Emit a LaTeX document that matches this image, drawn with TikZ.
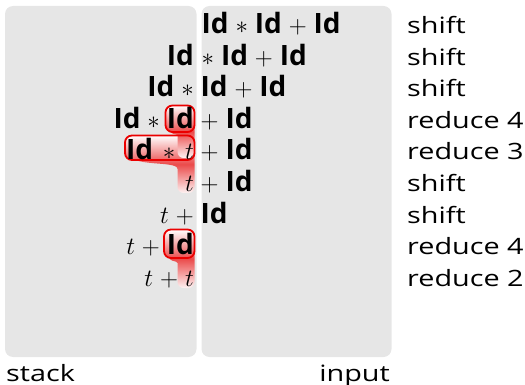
\documentclass[tikz,border=0pt]{standalone}
\usepackage{fontspec}
\setmainfont{Open Sans}
\newfontfamily\lblfont{Open Sans}[FakeStretch=1.28]
\newcommand\Id{\mbox{\fontsize{28}{30}\selectfont\bfseries Id}}
\definecolor{boxgray}{HTML}{E6E6E6}
\definecolor{hl}{RGB}{232,50,50}
\definecolor{hlline}{RGB}{235,0,0}
\tikzset{
  panel/.style={fill=boxgray, rounded corners=8pt},
  stk/.style={inner sep=0, anchor=base east, font=\fontsize{25}{30}\selectfont},
  inp/.style={inner sep=0, anchor=base west, font=\fontsize{25}{30}\selectfont},
  lbl/.style={inner sep=0, anchor=base west, font=\lblfont\fontsize{22.5}{27}\selectfont},
  hlshade/.style={top color=white, bottom color=hl!6!white, middle color=hl!88!white},
  hlbox/.style={draw=hlline, line width=1.8pt, rounded corners=7pt}
}
\begin{document}
\begin{tikzpicture}[x=1pt,y=-1pt]
\medmuskip=5mu
\useasboundingbox (0,0) rectangle (525,385);
% panels
\fill[panel] (5,6) rectangle (196.5,357);
\fill[panel] (201.5,6) rectangle (391.5,357);
% highlight shadings
\shade[hlshade] [rounded corners=7pt] (125,135.5) rectangle (194.5,160)
  (128,152) .. controls (128,168) and (177.5,160) .. (177.5,176)
  [rounded corners=6pt] -- (177.5,193) -- (194.5,193) [sharp corners] -- (194.5,152) -- cycle;
\shade[hlshade] [rounded corners=7pt] (165.5,105.5) rectangle (194.5,132)
  (168,124) .. controls (168,136) and (177.5,134) .. (177.5,142)
  [rounded corners=6pt] -- (177.5,158) -- (194.5,158) [sharp corners] -- (194.5,124) -- cycle;
\shade[hlshade] [rounded corners=7pt] (164,229.5) rectangle (194.5,258)
  (167,250) .. controls (167,264) and (177.5,260) .. (177.5,270)
  [rounded corners=6pt] -- (177.5,288) -- (194.5,288) [sharp corners] -- (194.5,250) -- cycle;
\draw[hlbox] (165.5,105.5) rectangle (194.5,132);
\draw[hlbox] (125,135.5) rectangle (194.5,160);
\draw[hlbox] (164,229.5) rectangle (194.5,258);
% stack column
\node[stk] (s2) at (194,65.1) {$\Id$};
\node[stk] (s3) at (194,96.7) {$\Id\mskip\medmuskip\mathord{\ast}$};
\node[stk] (s4) at (194,128.3) {$\Id\ast\Id$};
\node[stk] (s5) at (194,159.9) {$\Id\mskip7mu\mathord{\ast}\mskip7mu t$};
\node[stk] (s6) at (194,191.5) {$t$};
\node[stk] (s7) at (194,223.1) {$t\mskip\medmuskip\mathord{+}$};
\node[stk] (s8) at (194,254.7) {$t+\Id$};
\node[stk] (s9) at (194,286.3) {$t+t$};
% input column
\node[inp] (i1) at (201.5,33.5) {$\Id\ast\Id+\Id$};
\node[inp] (i2) at (201.5,65.1) {$\mathord{\ast}\mskip\medmuskip\Id+\Id$};
\node[inp] (i3) at (200.5,96.7) {$\Id+\Id$};
\node[inp] (i4) at (200.5,128.3) {$\mathord{+}\mskip\medmuskip\Id$};
\node[inp] (i5) at (200.5,159.9) {$\mathord{+}\mskip\medmuskip\Id$};
\node[inp] (i6) at (200.5,191.5) {$\mathord{+}\mskip\medmuskip\Id$};
\node[inp] (i7) at (200.5,223.1) {$\Id$};
% actions
\node[lbl] (a1) at (407,33.5) {shift};
\node[lbl] (a2) at (407,65.1) {shift};
\node[lbl] (a3) at (407,96.7) {shift};
\node[lbl] (a4) at (407,128.3) {reduce 4};
\node[lbl] (a5) at (407,159.9) {reduce 3};
\node[lbl] (a6) at (407,191.5) {shift};
\node[lbl] (a7) at (407,223.1) {shift};
\node[lbl] (a8) at (407,254.7) {reduce 4};
\node[lbl] (a9) at (407,286.3) {reduce 2};
% captions
\node[lbl] (cs) at (6,381) {stack};
\node[lbl, anchor=base east] (ci) at (390,381) {input};
\end{tikzpicture}
\end{document}
